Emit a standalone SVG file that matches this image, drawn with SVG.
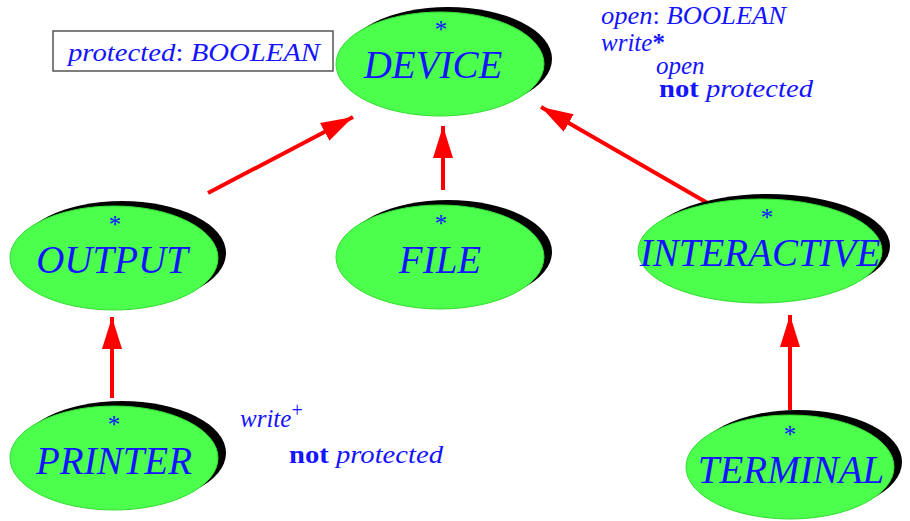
<svg xmlns="http://www.w3.org/2000/svg" width="910" height="521" viewBox="0 0 910 521">
<defs>
<style>
.sh{fill:#000}
.el{fill:#4cff4c;stroke:#33dd33;stroke-width:1}
.nm{font-family:"Liberation Serif",serif;font-style:italic;font-size:39px;fill:#1414ff;text-anchor:middle}
.st{font-family:"Liberation Serif",serif;font-size:25px;fill:#1414ff;text-anchor:middle}
.an{font-family:"Liberation Serif",serif;font-size:25px;fill:#1414ff}
.it{font-style:italic}
.bd{font-weight:bold}
.ar{stroke:#ff0000;stroke-width:4;fill:none;marker-end:url(#ah)}
</style>
<marker id="ah" markerUnits="userSpaceOnUse" markerWidth="34" markerHeight="24" refX="32" refY="12" orient="auto">
<path d="M0,2 L32,12 L0,22 Z" fill="#ff0000"/>
</marker>
</defs>
<rect width="910" height="521" fill="#fff"/>
<g id="connectors">
<line class="ar" x1="208" y1="193" x2="353" y2="117"/>
<line class="ar" x1="443" y1="190" x2="443" y2="126"/>
<line class="ar" x1="711" y1="205" x2="541" y2="107"/>
<line class="ar" x1="112" y1="398" x2="112" y2="317"/>
<line class="ar" x1="790" y1="410" x2="790" y2="315"/>
</g>
<g id="DEVICE">
<ellipse class="sh" cx="448" cy="59" rx="104" ry="52"/>
<ellipse class="el" cx="440" cy="64" rx="104" ry="52"/>
<text class="st" x="441" y="38">*</text>
<text class="nm" x="433" y="78">DEVICE</text>
</g>
<g id="OUTPUT">
<ellipse class="sh" cx="122" cy="253" rx="104" ry="52"/>
<ellipse class="el" cx="114" cy="258" rx="104" ry="52"/>
<text class="st" x="115" y="233">*</text>
<text class="nm" x="112" y="273">OUTPUT</text>
</g>
<g id="FILE">
<ellipse class="sh" cx="448" cy="252" rx="104" ry="52"/>
<ellipse class="el" cx="440" cy="257" rx="104" ry="52"/>
<text class="st" x="441" y="232">*</text>
<text class="nm" x="440" y="273">FILE</text>
</g>
<g id="INTERACTIVE">
<ellipse class="sh" cx="768" cy="246" rx="122" ry="52"/>
<ellipse class="el" cx="760" cy="251" rx="122" ry="52"/>
<text class="st" x="767" y="226">*</text>
<text class="nm" x="760" y="266">INTERACTIVE</text>
</g>
<g id="PRINTER">
<ellipse class="sh" cx="122" cy="453" rx="104" ry="52"/>
<ellipse class="el" cx="114" cy="458" rx="104" ry="52"/>
<text class="st" x="114" y="433">*</text>
<text class="nm" x="114" y="474">PRINTER</text>
</g>
<g id="TERMINAL">
<ellipse class="sh" cx="798" cy="462" rx="104" ry="52"/>
<ellipse class="el" cx="790" cy="467" rx="104" ry="52"/>
<text class="st" x="790" y="443">*</text>
<text class="nm" x="791" y="483">TERMINAL</text>
</g>
<g id="protected-box">
<rect x="53" y="31" width="280" height="40" fill="#fff" stroke="#555" stroke-width="1.5"/>
<text class="an" x="68" y="61" textLength="252" lengthAdjust="spacingAndGlyphs"><tspan class="it">protected</tspan>: <tspan class="it">BOOLEAN</tspan></text>
</g>
<g id="device-notes">
<text class="an" x="601" y="24" textLength="185" lengthAdjust="spacingAndGlyphs"><tspan class="it">open</tspan>: <tspan class="it">BOOLEAN</tspan></text>
<text class="an" x="601" y="51"><tspan class="it">write</tspan><tspan class="bd">*</tspan></text>
<text class="an it" x="656" y="74">open</text>
<text class="an" x="659" y="97" textLength="154" lengthAdjust="spacingAndGlyphs"><tspan class="bd">not</tspan> <tspan class="it">protected</tspan></text>
</g>
<g id="printer-notes">
<text class="an" x="240" y="427"><tspan class="it">write</tspan><tspan font-size="20" dy="-10">+</tspan></text>
<text class="an" x="289" y="463" textLength="154" lengthAdjust="spacingAndGlyphs"><tspan class="bd">not</tspan> <tspan class="it">protected</tspan></text>
</g>
</svg>
